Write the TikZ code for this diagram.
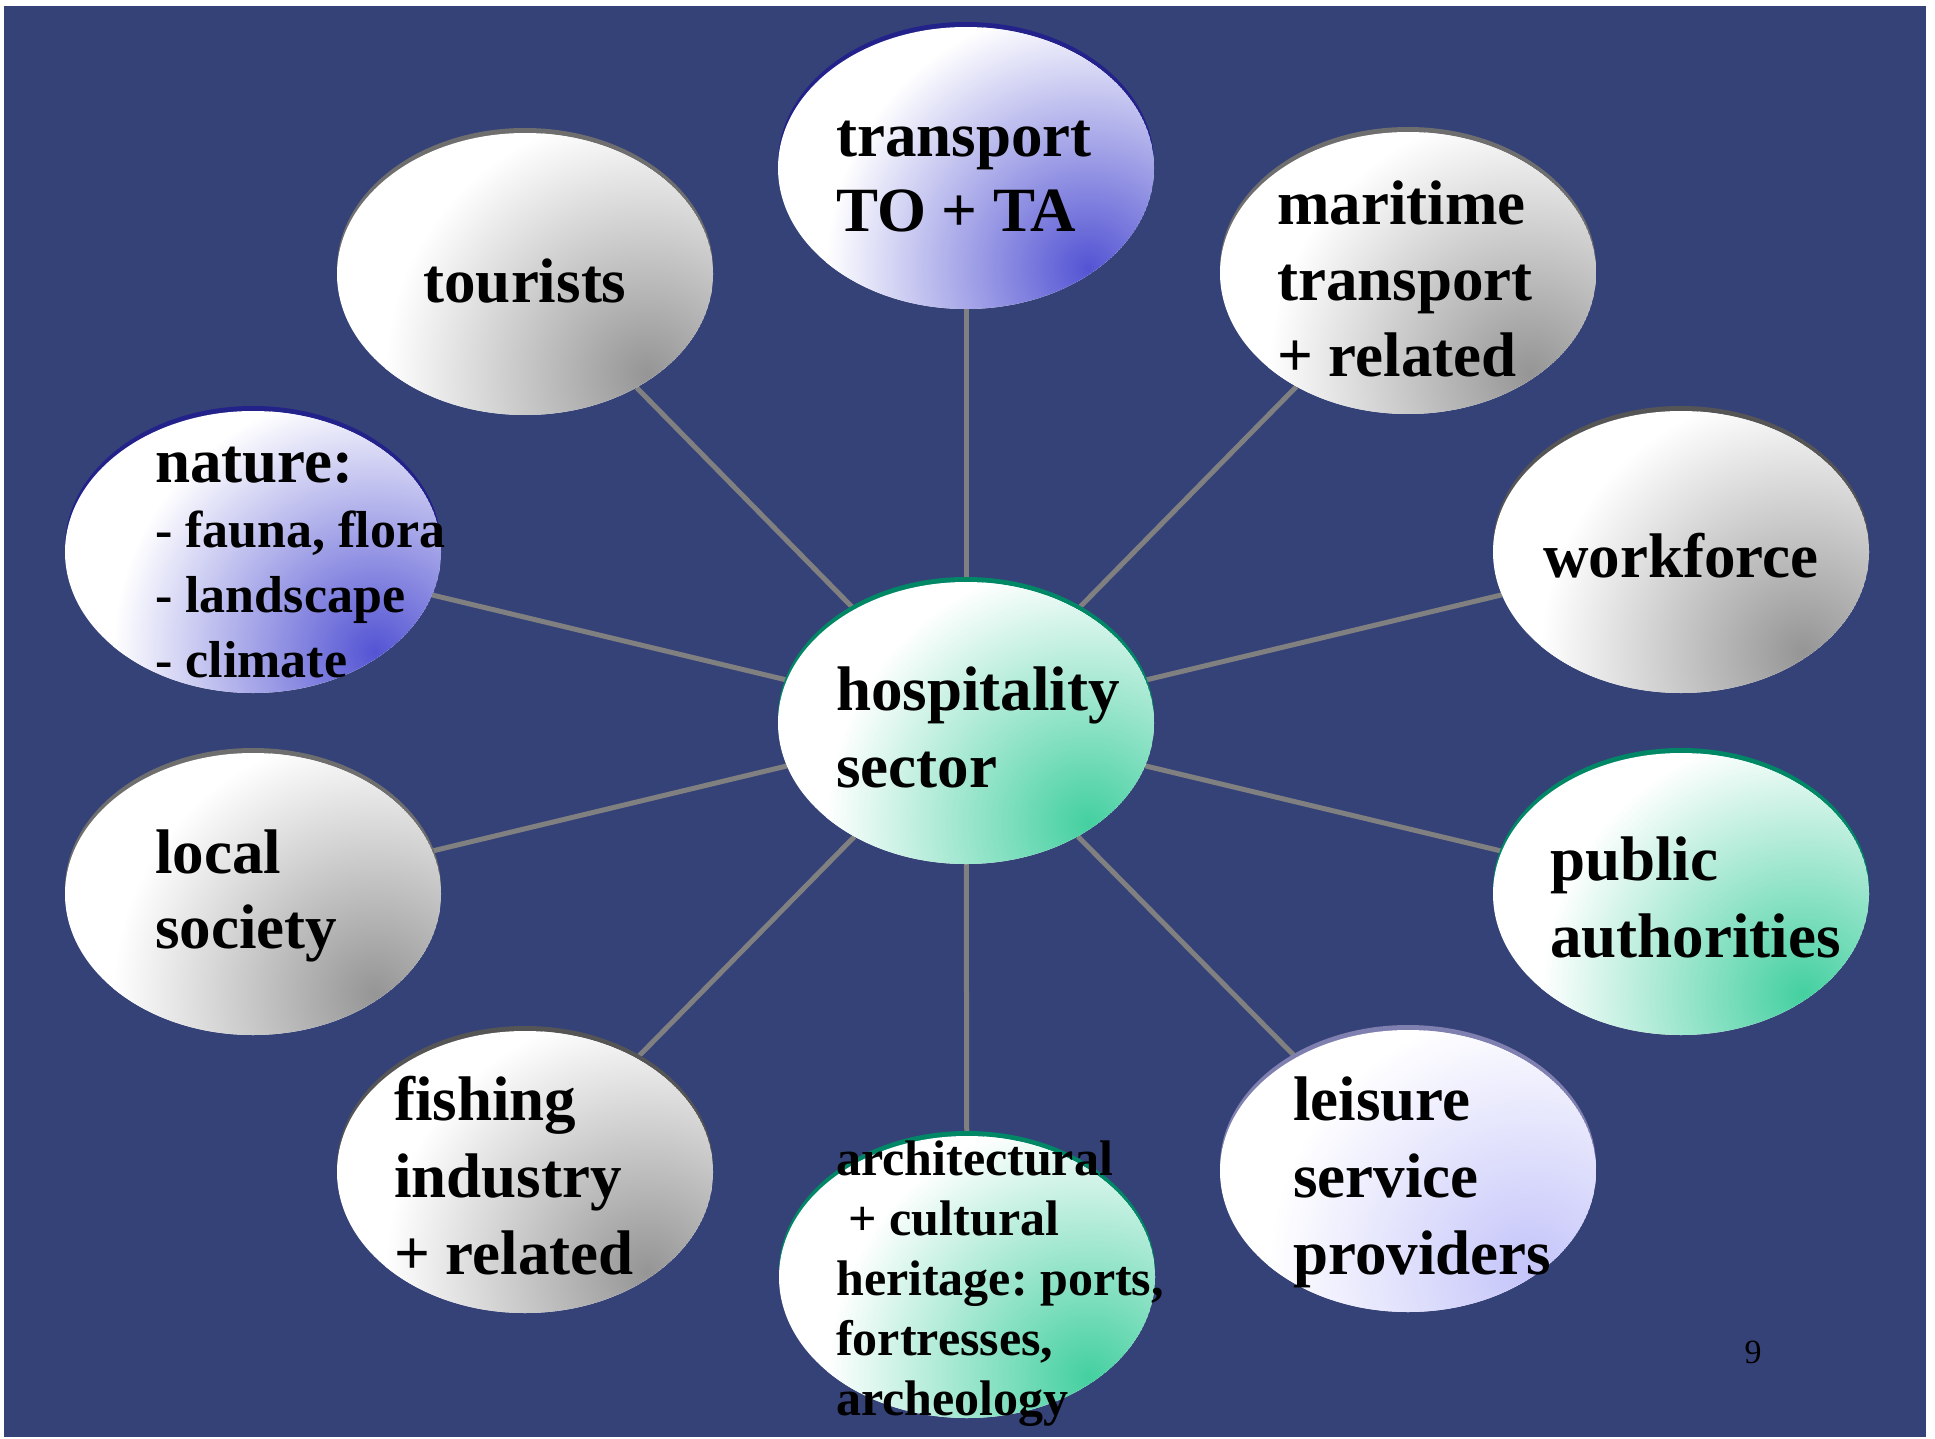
\documentclass[tikz,border=0pt]{standalone}
\usepackage{fontspec}
\setmainfont{Liberation Serif}
\usetikzlibrary{shapes.geometric}
\definecolor{bgblue}{HTML}{354277}
\definecolor{linegray}{HTML}{808080}
\definecolor{gdark}{HTML}{959595}
\definecolor{bdark}{HTML}{5454D4}
\definecolor{cdark}{HTML}{44D0A0}
\definecolor{ldark}{HTML}{C4C4FA}
\definecolor{grim}{HTML}{6E6E6E}
\definecolor{grimd}{HTML}{555555}
\definecolor{brim}{HTML}{22228A}
\definecolor{crim}{HTML}{008866}
\definecolor{lrim}{HTML}{8080B0}
\pgfdeclarelayer{background}
\pgfsetlayers{background,main}
\frenchspacing
\newcommand\tline[1]{\hbox{#1}}
\newcommand\blk[2]{\vtop{\baselineskip=#1pt\lineskiplimit=-1000pt\lineskip=0pt #2}}
% blob: x, y, hot colour, rim colour
\newcommand\blob[4]{%
  \begin{scope}[shift={(#1,#2)}]
    \fill[#4] (0,-5) ellipse [x radius=188pt, y radius=141pt];
    \begin{scope}
      \clip (0,0) ellipse [x radius=188pt, y radius=141pt];
      \fill[white] (0,0) ellipse [x radius=188pt, y radius=141pt];
      \shade[inner color=#3, outer color=white] (122,100) circle [radius=262pt];
    \end{scope}
  \end{scope}}
\begin{document}
\frenchspacing
\begin{tikzpicture}[x=1pt,y=-1pt,
  ell/.style={ellipse, minimum width=376pt, minimum height=282pt, inner sep=0pt},
  link/.style={draw=linegray, line width=5pt},
  lbl/.style={anchor=base west, inner sep=0pt, font=\bfseries\fontsize{63}{75}\selectfont},
  clbl/.style={anchor=base, inner sep=0pt, font=\bfseries\fontsize{63}{75}\selectfont},
]
\useasboundingbox (0,0) rectangle (1935,1439);

% shaded ellipses with rims
\blob{966}{168}{bdark}{brim}
\blob{525}{274}{gdark}{grim}
\blob{1408}{273}{gdark}{grim}
\blob{253}{552}{bdark}{brim}
\blob{1681}{552}{gdark}{grimd}
\blob{966}{723}{cdark}{crim}
\blob{253}{894}{gdark}{grim}
\blob{1681}{894}{cdark}{crim}
\blob{525}{1172}{gdark}{grimd}
\blob{1408}{1171}{ldark}{lrim}
\blob{967}{1277}{cdark}{crim}

% ellipse nodes
\node[ell] (trans) at (966,168) {};
\node[ell] (tour) at (525,274) {};
\node[ell] (mari) at (1408,273) {};
\node[ell] (nat) at (253,552) {};
\node[ell] (work) at (1681,552) {};
\node[ell] (hosp) at (966,723) {};
\node[ell] (loc) at (253,894) {};
\node[ell] (pub) at (1681,894) {};
\node[ell] (fish) at (525,1172) {};
\node[ell] (leis) at (1408,1171) {};
\node[ell] (arch) at (967,1277) {};

% texts
\node[lbl] (ttrans) at (836,157) {\blk{75}{\tline{transport}\tline{TO + TA}}};
\node[clbl] (ttour) at (525,302) {tourists};
\node[lbl] (tmari) at (1277,225) {\blk{76}{\tline{maritime}\tline{transport}\tline{+ related}}};
\node[lbl] (tnat) at (155,482) {\blk{65}{\tline{nature:}{\fontsize{52}{65}\selectfont\tline{- fauna, flora}\tline{- landscape}\tline{- climate}}}};
\node[clbl] (twork) at (1681,577) {workforce};
\node[lbl] (thosp) at (836,710) {\blk{77}{\tline{hospitality}\tline{sector}}};
\node[lbl] (tloc) at (155,873) {\blk{75}{\tline{local}\tline{society}}};
\node[lbl] (tpub) at (1550,880) {\blk{77}{\tline{public}\tline{authorities}}};
\node[lbl] (tfish) at (394,1120) {\blk{77}{\tline{fishing}\tline{industry}\tline{+ related}}};
\node[lbl] (tleis) at (1293,1120) {\blk{77}{\tline{leisure}\tline{service}\tline{providers}}};
\node[lbl, font=\bfseries\fontsize{50}{60}\selectfont] (tarch) at (836,1175) {\blk{60}{\tline{architectural}\tline{\ + cultural}\tline{heritage: ports,}\tline{fortresses,}\tline{archeology}}};
\node[anchor=base, inner sep=0pt, font=\fontsize{34}{40}\selectfont] (pnum) at (1753,1363) {9};

\begin{pgfonlayer}{background}
\fill[white] (0,0) rectangle (1935,1439);
\fill[bgblue] (4,6) rectangle (1926,1437);
\draw[link] (hosp) -- (trans);
\draw[link] (hosp) -- (tour);
\draw[link] (hosp) -- (mari);
\draw[link] (hosp) -- (nat);
\draw[link] (hosp) -- (work);
\draw[link] (hosp) -- (loc);
\draw[link] (hosp) -- (pub);
\draw[link] (hosp) -- (fish);
\draw[link] (hosp) -- (leis);
\draw[link] (hosp) -- (arch);
\end{pgfonlayer}
\end{tikzpicture}
\end{document}
